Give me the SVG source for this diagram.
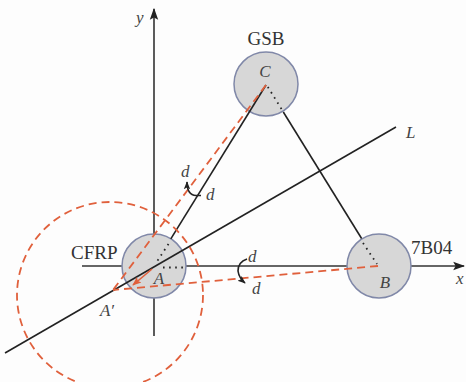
<svg xmlns="http://www.w3.org/2000/svg" width="466" height="382" viewBox="0 0 466 382">
<style>
.lbl{font-family:"Liberation Serif","Times New Roman",serif;font-size:19px;fill:#333}
.var{font-family:"Liberation Serif","Times New Roman",serif;font-size:17px;font-style:italic;fill:#444}
.node{fill:#d7d7d7;stroke:#8088a8;stroke-width:1.5}
.solid{stroke:#222;stroke-width:1.6;fill:none}
.dot{stroke:#222;stroke-width:1.8;fill:none;stroke-dasharray:1.6 4.5}
.red{stroke:#e0603c;stroke-width:1.8;fill:none;stroke-dasharray:8 5}
.axis{stroke:#333;stroke-width:1.6;fill:none}
</style>
<defs>
<marker id="ah" viewBox="0 0 10 10" refX="9" refY="5" markerWidth="8" markerHeight="8" markerUnits="userSpaceOnUse" orient="auto"><path d="M0,1 L10,5 L0,9 L2,5 Z" fill="#222"/></marker>
<marker id="axh" viewBox="0 0 10 10" refX="9" refY="5" markerWidth="12" markerHeight="12" markerUnits="userSpaceOnUse" orient="auto"><path d="M0,1.5 L10,5 L0,8.5 L2,5 Z" fill="#222"/></marker>
<marker id="rh" viewBox="0 0 10 10" refX="9" refY="5" markerWidth="9" markerHeight="9" markerUnits="userSpaceOnUse" orient="auto"><path d="M0,1 L10,5 L0,9 L2,5 Z" fill="#e0603c"/></marker>
</defs>
<rect width="466" height="382" fill="#fdfdfd"/>
<g id="axes">
<line class="axis" x1="154" y1="336" x2="154" y2="9" marker-end="url(#axh)"/>
<line class="axis" x1="82" y1="266" x2="464" y2="266" marker-end="url(#axh)"/>
<text class="var" x="136" y="23">y</text>
<text class="var" x="456" y="284">x</text>
</g>
<g id="nodes">
<g id="node-A"><circle class="node" cx="154" cy="266" r="32"/></g>
<g id="node-B"><circle class="node" cx="379" cy="266" r="32"/></g>
<g id="node-C"><circle class="node" cx="266" cy="84" r="32"/></g>
</g>
<g id="connectors">
<line class="solid" x1="5" y1="353" x2="396" y2="127"/>
<line class="solid" x1="266" y1="85" x2="170.8" y2="238.8"/>
<line class="dot" x1="168.5" y1="244" x2="156" y2="263"/>
<line class="dot" x1="281.5" y1="109" x2="266" y2="84"/>
<line class="solid" x1="283.3" y1="112" x2="361.6" y2="238.5"/>
<line class="dot" x1="363" y1="243" x2="377" y2="264"/>
<line class="dot" x1="163" y1="267.5" x2="186" y2="267.5"/>
<line class="red" x1="266" y1="85" x2="113" y2="290"/>
<line class="red" x1="378" y1="266" x2="113" y2="290"/>
<circle class="red" cx="110" cy="295" r="93"/>
<line x1="152" y1="269" x2="133" y2="285" stroke="#e0603c" stroke-width="1.6" marker-end="url(#rh)"/>
<path class="solid" d="M201,195.5 L196,195.5 Q187,195 187,182" marker-end="url(#ah)"/>
<path class="solid" d="M247,259 Q238,262 238,271 Q239,278 245,283" marker-end="url(#ah)"/>
</g>
<g id="labels">
<text class="lbl" x="266" y="45" text-anchor="middle">GSB</text>
<text class="var" x="265" y="77" text-anchor="middle">C</text>
<text class="var" x="406" y="138">L</text>
<text class="lbl" x="71" y="259">CFRP</text>
<text class="var" x="159" y="284" text-anchor="middle">A</text>
<text class="var" x="107" y="316" text-anchor="middle">A′</text>
<text class="lbl" x="411" y="254">7B04</text>
<text class="var" x="385" y="288" text-anchor="middle">B</text>
<text class="var" x="181" y="177">d</text>
<text class="var" x="206" y="200">d</text>
<text class="var" x="248" y="262">d</text>
<text class="var" x="252" y="294">d</text>
</g>
</svg>
